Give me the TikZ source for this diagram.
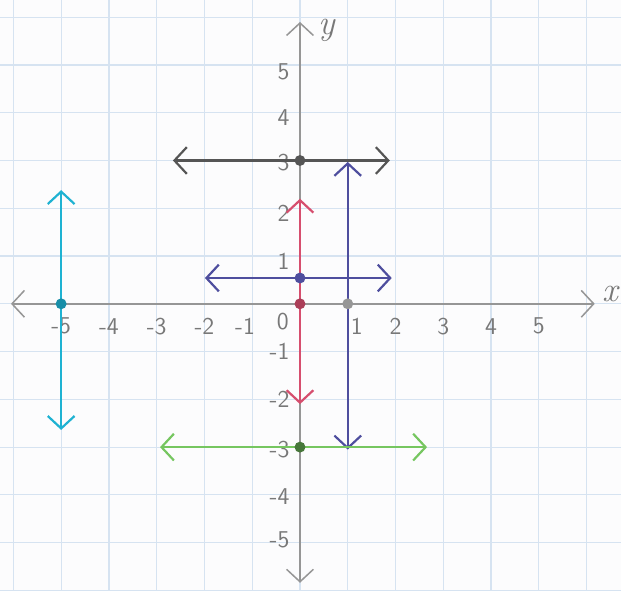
\documentclass[tikz,border=0pt]{standalone}
\usepackage{tikz}
\usetikzlibrary{arrows.meta}

\definecolor{paper}{RGB}{252,252,253}
\definecolor{gridblue}{RGB}{214,227,241}
\definecolor{axisgray}{RGB}{150,150,150}
\definecolor{labelgray}{RGB}{120,120,120}
\definecolor{pencilgray}{RGB}{85,85,85}
\definecolor{indigo}{RGB}{78,78,158}
\definecolor{rosepink}{RGB}{214,78,110}
\definecolor{skycyan}{RGB}{30,178,210}
\definecolor{leafgreen}{RGB}{118,198,96}

\begin{document}
\begin{tikzpicture}[
  >={Straight Barb[length=2.6mm,width=5.6mm]},
  axis/.style={draw=axisgray, line width=0.9pt, <->},
  graphline/.style={line width=1.3pt, <->},
  dot/.style={circle, fill, inner sep=0pt, minimum size=6.5pt},
  ticklabel/.style={font=\Large\sffamily, text=labelgray, inner sep=1pt}
]
% paper
\useasboundingbox[fill=paper] (-6.28,-6.0) rectangle (6.72,6.36);
\draw[gridblue, line width=0.7pt] (-6.28,-6.0) grid (6.72,6.36);

% axes
\coordinate (xl) at (-6.05,0);
\coordinate (xr) at (6.17,0);
\coordinate (yt) at (0,5.9);
\coordinate (yb) at (0,-5.84);
\draw[axis] (xl) -- (xr);
\draw[axis] (yb) -- (yt);
\node[ticklabel, font=\huge\itshape] (xlab) at (6.5,0.2) {x};
\node[ticklabel, font=\huge\itshape] (ylab) at (0.56,5.73) {y};

% tick labels
\foreach \i in {-5,-4,-3,-2,2,3,4,5}
  \node[ticklabel] (tx\i) at (\i,-0.47) {\i};
\node[ticklabel] (txm1) at (-1.15,-0.47) {-1};
\node[ticklabel] (tx0) at (-0.36,-0.38) {0};
\node[ticklabel] (tx1) at (1.19,-0.47) {1};
\foreach \j/\h in {1/0.88,2/1.9,3/2.95,4/3.9,5/4.85,-1/-1.0,-2/-2.0,-3/-3.05,-4/-4.04,-5/-4.94}
  \node[ticklabel, anchor=east] (ty\j) at (-0.18,\h) {\j};

% y = 3
\coordinate (g1) at (-2.66,3);
\coordinate (g2) at (1.88,3);
\draw[graphline, pencilgray] (g1) -- (g2);
\node[dot, pencilgray] (d3) at (0,3) {};

% x = 1
\coordinate (v1) at (1,2.97);
\coordinate (v2) at (1,-3.05);
\draw[graphline, indigo] (v2) -- (v1);
\node[dot, axisgray] (d1) at (1,0) {};

% x = 0
\coordinate (p1) at (0,2.2);
\coordinate (p2) at (0,-2.1);
\draw[graphline, rosepink] (p2) -- (p1);
\node[dot, rosepink!80!black] (d0) at (0,0) {};

% y = 1/2
\coordinate (b1) at (-1.99,0.54);
\coordinate (b2) at (1.92,0.54);
\draw[graphline, indigo] (b1) -- (b2);
\node[dot, indigo] (dh) at (0,0.54) {};

% x = -5
\coordinate (c1) at (-5,2.38);
\coordinate (c2) at (-5,-2.64);
\draw[graphline, skycyan] (c2) -- (c1);
\node[dot, skycyan!80!black] (dm5) at (-5,0) {};

% y = -3
\coordinate (l1) at (-2.93,-3);
\coordinate (l2) at (2.66,-3);
\draw[graphline, leafgreen] (l1) -- (l2);
\node[dot, leafgreen!60!black] (dm3) at (0,-3) {};
\end{tikzpicture}
\end{document}
